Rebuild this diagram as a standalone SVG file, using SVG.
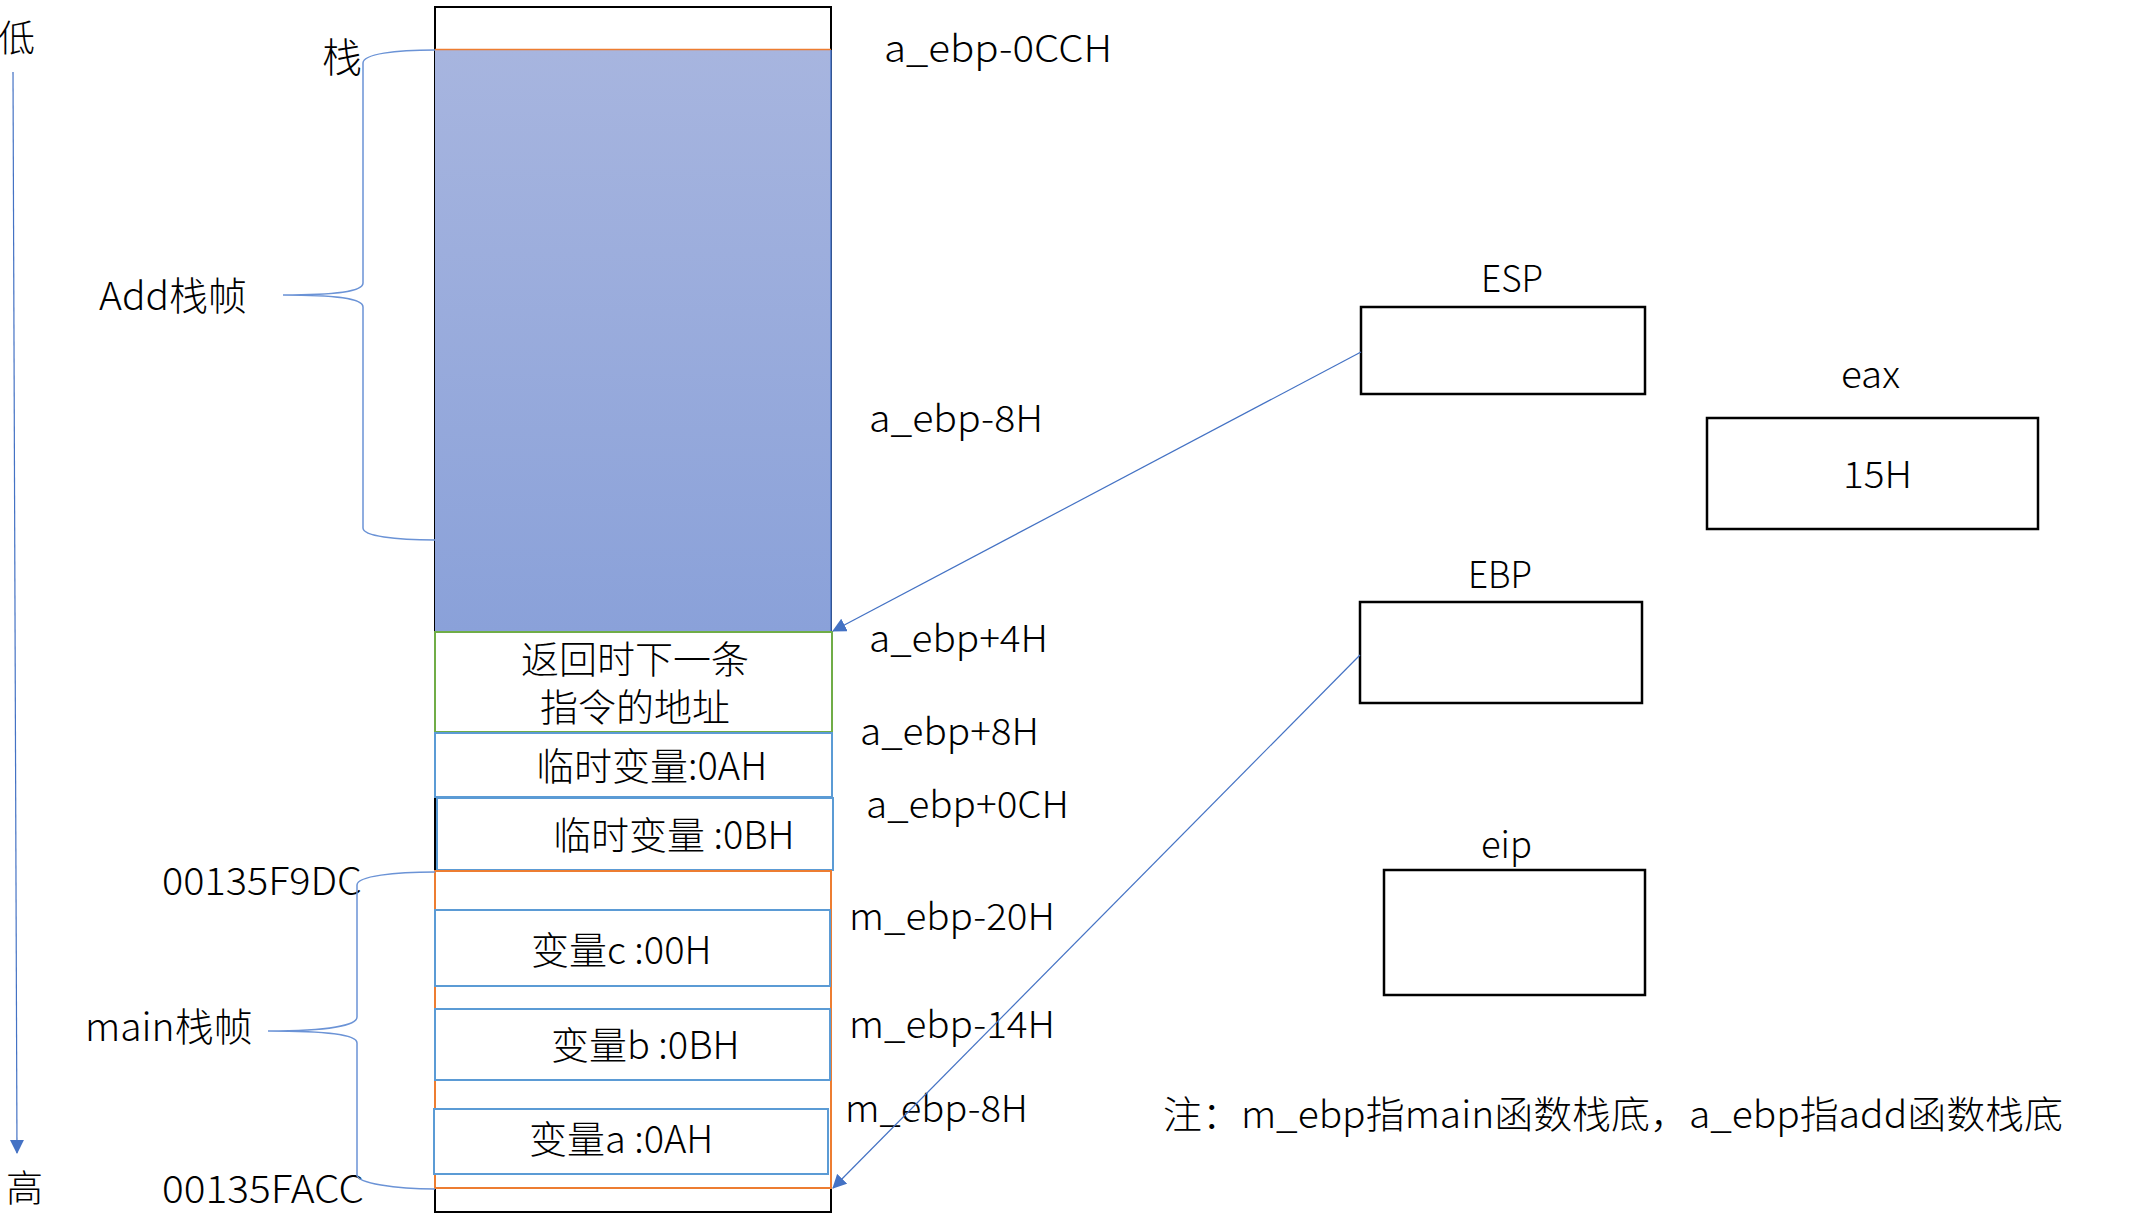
<svg xmlns="http://www.w3.org/2000/svg" width="2132" height="1214" viewBox="0 0 2132 1214">
<style>
text{font-family:"Noto Sans CJK SC","Noto Sans",sans-serif;fill:#000;font-weight:300;}
.t{font-size:38px;}
.lbl{font-size:37px;}
.box{fill:#fff;stroke:#000;stroke-width:2.5;}
.cell{fill:#fff;stroke:#5b9bd5;stroke-width:2;}
.brace{fill:none;stroke:#6b93d6;stroke-width:1.5;}
.conn{fill:none;stroke:#4472c4;stroke-width:1.2;}
</style>
<defs>
<linearGradient id="g" x1="0" y1="0" x2="0" y2="1">
<stop offset="0" stop-color="#a7b5df"/>
<stop offset="1" stop-color="#8aa1d9"/>
</linearGradient>
<marker id="ah2" markerWidth="14" markerHeight="14" refX="13" refY="7" orient="auto" markerUnits="userSpaceOnUse" viewBox="0 0 14 14">
<path d="M0,0 L14,7 L0,14 z" fill="#4472c4"/>
</marker>
</defs>
<rect width="2132" height="1214" fill="#fff"/>

<g id="axis">
<text x="-2" y="52" style="font-size:37px">低</text>
<text x="6" y="1202" style="font-size:37px">高</text>
</g>

<g id="stack">
<rect x="435" y="7" width="396" height="1205" fill="#fff" stroke="#000" stroke-width="2"/>
</g>

<g id="add-frame">
<rect x="435" y="50" width="396" height="582" fill="url(#g)"/>
<line x1="435" y1="49.5" x2="831" y2="49.5" stroke="#ed7d31" stroke-width="1.5"/>
<line x1="831" y1="50" x2="831" y2="632" stroke="#4472c4" stroke-width="1.5"/>
</g>

<g id="ret-addr">
<rect x="435" y="632" width="397" height="100" fill="#fff" stroke="#70ad47" stroke-width="2"/>
<text class="t" text-anchor="middle"><tspan x="635" y="673">返回时下一条</tspan><tspan x="635" y="721">指令的地址</tspan></text>
</g>

<g id="tmp-a">
<rect class="cell" x="435" y="733" width="397" height="64"/>
<text class="t" x="536" y="780">临时变量:0AH</text>
</g>

<g id="tmp-b">
<rect class="cell" x="437" y="798" width="396" height="72"/>
<text class="t" x="553" y="849">临时变量 :0BH</text>
</g>

<g id="main-frame">
<rect x="435" y="871" width="396" height="317" fill="#fff" stroke="#ed7d31" stroke-width="2"/>
</g>

<g id="var-c">
<rect class="cell" x="435" y="910" width="395" height="76"/>
<text class="t" x="531" y="964">变量c :00H</text>
</g>

<g id="var-b">
<rect class="cell" x="435" y="1009" width="395" height="71"/>
<text class="t" x="551" y="1059">变量b :0BH</text>
</g>

<g id="var-a">
<rect class="cell" x="434" y="1109" width="394" height="65"/>
<text class="t" x="529" y="1153">变量a :0AH</text>
</g>

<g id="left-labels">
<text x="322" y="72" style="font-size:40px">栈</text>
<text x="99" y="310" style="font-size:39px">Add栈帧</text>
<text x="162" y="895" style="font-size:38px" textLength="200" lengthAdjust="spacingAndGlyphs">00135F9DC</text>
<text x="85" y="1041" style="font-size:39px">main栈帧</text>
<text x="162" y="1203" style="font-size:38px" textLength="202" lengthAdjust="spacingAndGlyphs">00135FACC</text>
</g>

<g id="offset-labels">
<text class="lbl" x="884" y="62" textLength="228" lengthAdjust="spacingAndGlyphs">a_ebp-0CCH</text>
<text class="lbl" x="869" y="432" textLength="174" lengthAdjust="spacingAndGlyphs">a_ebp-8H</text>
<text class="lbl" x="869" y="652" textLength="179" lengthAdjust="spacingAndGlyphs">a_ebp+4H</text>
<text class="lbl" x="860" y="745" textLength="179" lengthAdjust="spacingAndGlyphs">a_ebp+8H</text>
<text class="lbl" x="866" y="818" textLength="203" lengthAdjust="spacingAndGlyphs">a_ebp+0CH</text>
<text class="lbl" x="849" y="930" textLength="206" lengthAdjust="spacingAndGlyphs">m_ebp-20H</text>
<text class="lbl" x="849" y="1038" textLength="206" lengthAdjust="spacingAndGlyphs">m_ebp-14H</text>
<text class="lbl" x="845" y="1122" textLength="183" lengthAdjust="spacingAndGlyphs">m_ebp-8H</text>
</g>

<g id="esp">
<text class="lbl" x="1481" y="292" textLength="62" lengthAdjust="spacingAndGlyphs">ESP</text>
<rect class="box" x="1361" y="307" width="284" height="87"/>
</g>

<g id="eax">
<text class="lbl" x="1841" y="388" textLength="59" lengthAdjust="spacingAndGlyphs">eax</text>
<rect class="box" x="1707" y="418" width="331" height="111"/>
<text class="lbl" x="1843" y="488" textLength="69" lengthAdjust="spacingAndGlyphs">15H</text>
</g>

<g id="ebp">
<text class="lbl" x="1468" y="588" textLength="64" lengthAdjust="spacingAndGlyphs">EBP</text>
<rect class="box" x="1360" y="602" width="282" height="101"/>
</g>

<g id="eip">
<text class="lbl" x="1481" y="858" textLength="51" lengthAdjust="spacingAndGlyphs">eip</text>
<rect class="box" x="1384" y="870" width="261" height="125"/>
</g>

<g id="note">
<text x="1163" y="1128" style="font-size:38px" textLength="900" lengthAdjust="spacingAndGlyphs">注：m_ebp指main函数栈底，a_ebp指add函数栈底</text>
</g>

<g id="braces">
<path class="brace" d="M435,50 C395,50 363,54 363,63 L363,283 C363,291 340,295 283,295 C340,295 363,299 363,307 L363,528 C363,536 395,540 435,540"/>
<path class="brace" d="M435,872 C395,872 357,876 357,885 L357,1017 C357,1025 330,1031 268,1031 C330,1031 357,1035 357,1043 L357,1175 C357,1183 395,1189 435,1189"/>
</g>

<g id="connectors">
<line class="conn" x1="13" y1="72" x2="17" y2="1153" marker-end="url(#ah2)"/>
<line class="conn" x1="1361" y1="352" x2="833" y2="631" marker-end="url(#ah2)"/>
<line class="conn" x1="1360" y1="655" x2="833" y2="1188" marker-end="url(#ah2)"/>
</g>
</svg>
